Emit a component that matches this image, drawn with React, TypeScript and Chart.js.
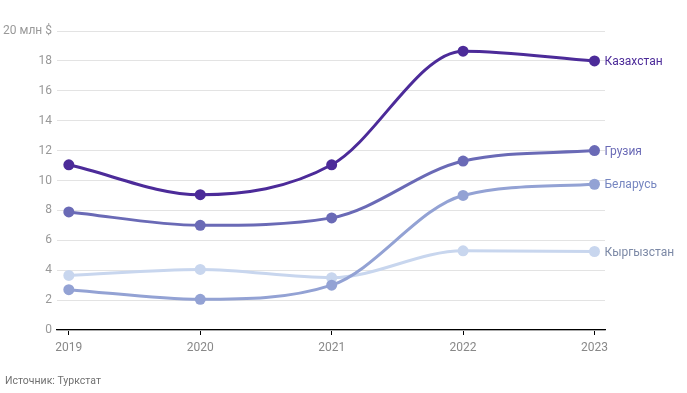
import React, { useEffect, useRef } from "react";
import { Chart, registerables } from "chart.js";

Chart.register(...registerables);

const years = [2019, 2020, 2021, 2022, 2023];
const kazakhstan = [11.05, 9.05, 11.05, 18.65, 18.0];
const georgia = [7.9, 7.0, 7.5, 11.3, 12.0];
const belarus = [2.7, 2.05, 3.0, 9.0, 9.75];
const kyrgyzstan = [3.65, 4.05, 3.5, 5.3, 5.25];
const seriesNames = ["Казахстан", "Грузия", "Беларусь", "Кыргызстан"];
const lineColors = ["#4c2b99", "#6a6ab6", "#93a2d4", "#c8d6ee"];
const labelColors = ["#4c2b99", "#6a6ab6", "#7686c0", "#7c89a6"];
const yTicks = [0, 2, 4, 6, 8, 10, 12, 14, 16, 18, 20];
const source = "Источник: Туркстат";

const FONT = "Roboto, 'Noto Sans', sans-serif";

export default function App() {
  const ref = useRef<HTMLCanvasElement | null>(null);
  useEffect(() => {
    if (!ref.current) return;
    const seriesData = [kazakhstan, georgia, belarus, kyrgyzstan];
    const endLabels = {
      id: "endLabels",
      afterDatasetsDraw(chart: any) {
        const ctx = chart.ctx;
        ctx.save();
        ctx.font = `12px ${FONT}`;
        ctx.textBaseline = "middle";
        ctx.textAlign = "left";
        chart.data.datasets.forEach((ds: any, i: number) => {
          const meta = chart.getDatasetMeta(i);
          const pt = meta.data[meta.data.length - 1];
          ctx.fillStyle = labelColors[i];
          ctx.fillText(seriesNames[i], pt.x + 10, pt.y + 1);
        });
        ctx.font = `10.5px ${FONT}`;
        ctx.fillStyle = "#707070";
        ctx.textBaseline = "middle";
        ctx.fillText(source, 5, 381);
        ctx.restore();
      },
    };
    const chart = new Chart(ref.current, {
      type: "line",
      data: {
        datasets: seriesData.map((d, i) => ({
          label: seriesNames[i],
          data: d.map((v, j) => ({ x: years[j], y: v })),
          borderColor: lineColors[i],
          backgroundColor: lineColors[i],
          pointBackgroundColor: lineColors[i],
          pointBorderWidth: 0,
          pointRadius: 5.5,
          borderWidth: 3,
          cubicInterpolationMode: "monotone",
        })),
      },
      options: {
        animation: false,
        responsive: false,
        layout: { padding: { top: 31, bottom: 33, right: 82, left: 0 } },
        plugins: { legend: { display: false }, tooltip: { enabled: false } },
        scales: {
          x: {
            type: "linear",
            min: 2018.91,
            max: 2023.08,
            afterBuildTicks: (scale: any) => {
              scale.ticks = years.map((v) => ({ value: v }));
            },
            afterFit: (scale: any) => {
              scale.height = 30;
            },
            grid: {
              drawOnChartArea: false,
              drawTicks: true,
              tickLength: 5,
              tickColor: "#000",
              lineWidth: 1,
            },
            border: { display: true, color: "#000", width: 1.2 },
            ticks: {
              color: "#888",
              font: { family: FONT, size: 12 },
              padding: 6,
              maxRotation: 0,
              callback: (v: any) => String(v),
            },
          },
          y: {
            min: 0,
            max: 20,
            afterBuildTicks: (scale: any) => {
              scale.ticks = yTicks.map((v) => ({ value: v }));
            },
            afterFit: (scale: any) => {
              scale.width = 57;
            },
            grid: { color: "#e3e3e3", drawTicks: false, lineWidth: 1 },
            border: { display: false },
            ticks: {
              color: "#999",
              font: { family: FONT, size: 12 },
              padding: 5,
              callback: (v: any) => (v === 20 ? "20 млн $" : String(v)),
            },
          },
        },
      },
      plugins: [endLabels],
    } as any);
    return () => chart.destroy();
  }, []);
  return (
    <div style={{ position: "fixed", left: 0, top: 0, width: 687, height: 393, background: "#fff" }}>
      <canvas ref={ref} width={687} height={393} style={{ width: 687, height: 393, display: "block" }} />
    </div>
  );
}
